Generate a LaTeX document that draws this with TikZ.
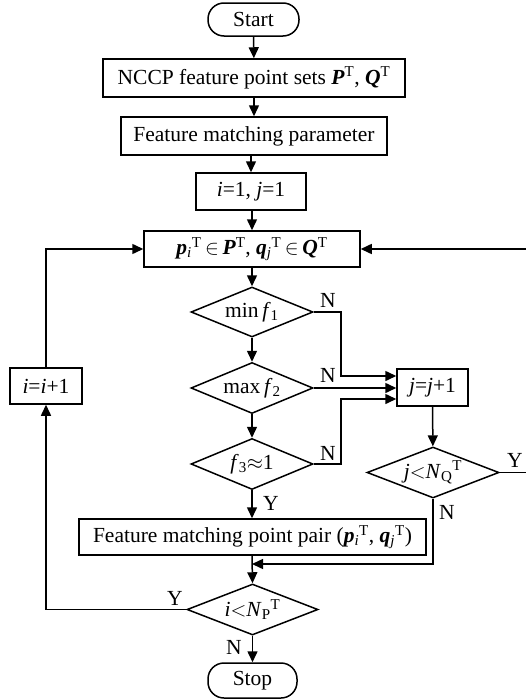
\documentclass[tikz,border=0pt]{standalone}
\usepackage{amsmath}
\usepackage{fontspec}
\setmainfont{Liberation Serif}
\usetikzlibrary{arrows.meta,shapes.geometric}
\newcommand\bi[1]{\textbf{\textit{#1}}}
\newcommand\SupSub[2]{$_{\text{#2}}{}^{\text{#1}}$}
\begin{document}
\begin{tikzpicture}[x=1pt,y=-1pt,
  every node/.style={font=\fontsize{21.5pt}{24pt}\selectfont},
  box/.style={draw,rectangle,line width=1.5pt,inner sep=0pt},
  term/.style={draw,rectangle,rounded corners=16pt,line width=1.5pt,inner sep=0pt},
  dec/.style={draw,diamond,aspect=2.4,inner sep=0pt,line width=1.5pt},
  arr/.style={line width=1.5pt,-{Triangle[length=11pt,width=10pt]}},
  lbl/.style={inner sep=0pt}]
\useasboundingbox (0,0) rectangle (526,699);
\node[term,minimum width=91pt,minimum height=33pt] (start) at (253.5,19.5) {Start};
\node[box,minimum width=302pt,minimum height=38pt] (nccp) at (254,78) {NCCP feature point sets \bi{P}\textsuperscript{T}, \bi{Q}\textsuperscript{T}};
\node[box,minimum width=266pt,minimum height=38pt] (fmp) at (254,136) {Feature matching parameter};
\node[box,minimum width=110pt,minimum height=37pt] (init) at (251,191.5) {\textit{i}=1, \textit{j}=1};
\node[box,minimum width=216pt,minimum height=36pt] (pq) at (252,249) {\bi{p}\SupSub{T}{\itshape i}\,$\in$\,\bi{P}\textsuperscript{T}, \bi{q}\SupSub{T}{\itshape j}\,$\in$\,\bi{Q}\textsuperscript{T}};
\node[dec,minimum width=122pt,minimum height=50pt] (d1) at (252,312) {min\,\textit{f}$_{\text{1}}$};
\node[dec,minimum width=122pt,minimum height=51pt] (d2) at (252,388) {max\,\textit{f}$_{\text{2}}$};
\node[dec,minimum width=122pt,minimum height=51pt] (d3) at (252,464) {\textit{f}$_{\text{3}}$$\approx$1};
\node[box,minimum width=71pt,minimum height=37pt] (jinc) at (432.5,387.5) {\textit{j}=\textit{j}+1};
\node[dec,minimum width=132pt,minimum height=51pt] (dq) at (433,472.5) {\textit{j}$<$\textit{N}\SupSub{T}{Q}};
\node[box,minimum width=347pt,minimum height=36pt] (pair) at (252.5,537) {Feature matching point pair (\bi{p}\SupSub{T}{\itshape i}, \bi{q}\SupSub{T}{\itshape j})};
\node[dec,minimum width=131pt,minimum height=51pt] (dp) at (252.5,609.5) {\textit{i}$<$\textit{N}\SupSub{T}{P}};
\node[box,minimum width=72pt,minimum height=36pt] (iinc) at (46,386) {\textit{i}=\textit{i}+1};
\node[term,minimum width=89pt,minimum height=35pt] (stop) at (252.5,680.5) {Stop};
% coordinates
\coordinate (c1) at (341,376);
\coordinate (c3) at (341,399);
\coordinate (cr) at (532,472.5);
\coordinate (cq) at (433,564);
\coordinate (cl) at (46,609.5);
% main column
\draw[arr] (start) -- (nccp);
\draw[arr] (nccp) -- (fmp);
\draw[arr] (fmp.south -| init) -- (init);
\draw[arr] (init.south -| pq) -- (pq);
\draw[arr] (pq) -- (d1);
\draw[arr] (d1) -- (d2);
\draw[arr] (d2) -- (d3);
\draw[arr] (d3) -- (pair.north -| d3);
\draw[arr] (pair.south -| d3) -- (dp.north);
\draw[arr] (dp) -- (stop);
% N branches
\draw[arr] (d1.east) -| (c1) -- (c1 -| jinc.west);
\draw[arr] (d2.east) -- (d2.east -| jinc.west);
\draw[arr] (d3.east) -| (c3) -- (c3 -| jinc.west);
\draw[arr] (jinc) -- (dq);
\draw[arr] (dq.east) -- (cr) |- (pq.east);
\draw[arr] (dq.south) -- (cq) -- (cq -| d3);
\draw[arr] (dp.west) -- (cl) -- (iinc.south);
\draw[arr] (iinc.north) |- (pq.west);
% labels
\node[lbl] (n1) at (328,300) {N};
\node[lbl] (n2) at (328,375) {N};
\node[lbl] (n3) at (328,453) {N};
\node[lbl] (y3) at (271,503) {Y};
\node[lbl] (yq) at (515,460) {Y};
\node[lbl] (nq) at (447,512) {N};
\node[lbl] (yp) at (175,598) {Y};
\node[lbl] (np) at (234,647) {N};
\end{tikzpicture}
\end{document}
